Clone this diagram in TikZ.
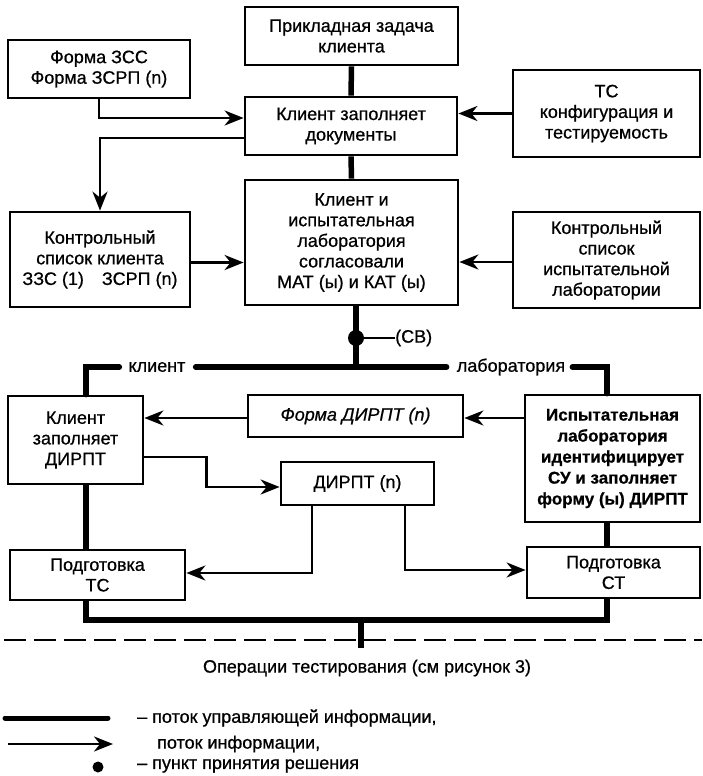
\documentclass[tikz,border=0pt]{standalone}
\usepackage{fontspec}
\setmainfont{Liberation Sans}[RawFeature={embolden=0.7}]
\usetikzlibrary{arrows.meta}
\begin{document}
\begin{tikzpicture}[x=1pt,y=-1pt,
  box/.style={draw, line width=2.8pt, fill=white, align=center, inner sep=0pt,
    font=\fontsize{18}{20.6}\selectfont},
  ctrl/.style={line width=5.5pt, line join=miter},
  info/.style={line width=2.5pt, line join=miter, -{Stealth[length=19pt,width=15pt,inset=6pt]}},
  lbl/.style={font=\fontsize{18}{20}\selectfont, inner sep=0pt}]
\useasboundingbox (0,0) rectangle (702,776);

% boxes
\node[box, minimum width=213pt, minimum height=58pt] (app) at (351.5,36) {Прикладная задача\\клиента};
\node[box, minimum width=182pt, minimum height=58pt] (forma) at (99,69) {Форма ЗСС\\Форма ЗСРП (n)};
\node[box, minimum width=212pt, minimum height=58pt] (fill) at (351,126) {Клиент заполняет\\документы};
\node[box, minimum width=187pt, minimum height=87pt] (tc) at (606.5,113.5) {ТС\\конфигурация и\\тестируемость};
\node[box, minimum width=213pt, minimum height=125pt] (agree) at (351.5,242.5) {Клиент и\\испытательная\\лаборатория\\согласовали\\МАТ (ы) и КАТ (ы)};
\node[box, minimum width=180pt, minimum height=95pt] (chkc) at (100,259.5) {Контрольный\\список клиента\\ЗЗС (1)\quad ЗСРП (n)};
\node[box, minimum width=187pt, minimum height=96pt] (chkl) at (606.5,260) {Контрольный\\список\\испытательной\\лаборатории};
\node[box, minimum width=135pt, minimum height=88pt] (cfill) at (75.5,440) {Клиент\\заполняет\\ДИРПТ};
\node[box, minimum width=215pt, minimum height=42pt, font=\fontsize{18}{20.6}\selectfont\itshape] (fdirpt) at (355.5,416) {Форма ДИРПТ (n)};
\node[box, minimum width=153pt, minimum height=43pt] (dirpt) at (357.5,483.5) {ДИРПТ (n)};
\node[box, minimum width=175pt, minimum height=127pt, font=\fontsize{17}{21}\selectfont\bfseries] (lab) at (612.5,458.5) {Испытательная\\лаборатория\\идентифицирует\\СУ и заполняет\\форму (ы) ДИРПТ};
\node[box, minimum width=175pt, minimum height=50pt] (prtc) at (97.5,575) {Подготовка\\ТС};
\node[box, minimum width=173pt, minimum height=51pt] (prst) at (613.5,572.5) {Подготовка\\СТ};

% coordinates of the control buses
\coordinate (busC) at (356,367);
\coordinate (busL) at (86,367);
\coordinate (busR) at (607,367);
\coordinate (botL) at (86,620);
\coordinate (botR) at (607,620);
\coordinate (botC) at (361,620);
\coordinate (opEnd) at (361,648);

% control flow
\draw[ctrl] (app.south) -- (fill.north);
\draw[ctrl] (fill.south) -- (agree.north);
\draw[ctrl] (agree.south -| busC) -- (busC);
\node[lbl] (lblC) at (157,367) {клиент};
\node[lbl] (lblL) at (511,367) {лаборатория};
\draw[ctrl, line cap=round] ([xshift=-9pt]lblC.west) -- (busL) -- (busL |- cfill.north);
\draw[ctrl, line cap=round] ([xshift=10pt]lblC.east) -- (busC) -- ([xshift=-10pt]lblL.west);
\draw[ctrl, line cap=round] ([xshift=7pt]lblL.east) -- (busR) -- (busR |- lab.north);
\draw[ctrl] (busL |- cfill.south) -- (busL |- prtc.north);
\draw[ctrl] (busR |- lab.south) -- (busR |- prst.north);
\draw[ctrl] (busL |- prtc.south) -- (botL) -- (botR) -- (botR |- prst.south);
\draw[ctrl] (botC) -- (opEnd);

% decision point
\node[circle, fill, inner sep=0pt, minimum width=13pt, minimum height=16pt] (sv) at (356,338) {};
\node[lbl, anchor=west] (svl) at (395,338) {(СВ)};
\draw[line width=2.4pt] (sv) -- (svl.west);

% information flow
\draw[info] (forma.south) |- ([yshift=8pt]fill.west);
\draw[info] ([yshift=-12pt]fill.west) -| (chkc.north);
\draw[info] (tc.west) -- (tc.west -| fill.east);
\draw[info] ([yshift=-3pt]chkc.east) -- ([yshift=-3pt]chkc.east -| agree.west);
\draw[info] ([yshift=-2pt]chkl.west) -- ([yshift=-2pt]chkl.west -| agree.east);
\draw[info] ([yshift=-2pt]fdirpt.west) -- ([yshift=-2pt]fdirpt.west -| cfill.east);
\draw[info] (lab.west |- fdirpt.east) ++(0,2) -- ([yshift=-2pt]fdirpt.east);
\draw[info] ([yshift=-17pt]cfill.east) -- ++(62,0) |- ([yshift=-3.5pt]dirpt.west);
\draw[info] ([xshift=-45.5pt]dirpt.south) |- ([yshift=2pt]prtc.east);
\draw[info] ([xshift=47.5pt]dirpt.south) |- ([yshift=2.5pt]prst.west);

% dashed border to testing operations
\coordinate (dashL) at (4,640);
\coordinate (dashR) at (702,640);
\draw[line width=2pt, dash pattern=on 22pt off 8pt] (dashL) -- (dashR);
\node[lbl] (ops) at (367,668) {Операции тестирования (см рисунок 3)};

% legend
\coordinate (lgA) at (5,718);
\coordinate (lgB) at (108,718);
\coordinate (lgC) at (8,744);
\coordinate (lgD) at (113,744);
\draw[line width=5pt, line cap=round] (lgA) -- (lgB);
\draw[info] (lgC) -- (lgD);
\node[circle, fill, inner sep=0pt, minimum width=9pt, minimum height=11pt] (lgdot) at (98,767) {};
\node[lbl, anchor=west] (lt1) at (137,718) {– поток управляющей информации,};
\node[lbl, anchor=west] (lt2) at (157,744) {поток информации,};
\node[lbl, anchor=west] (lt3) at (137,766) {– пункт принятия решения};
\end{tikzpicture}
\end{document}
